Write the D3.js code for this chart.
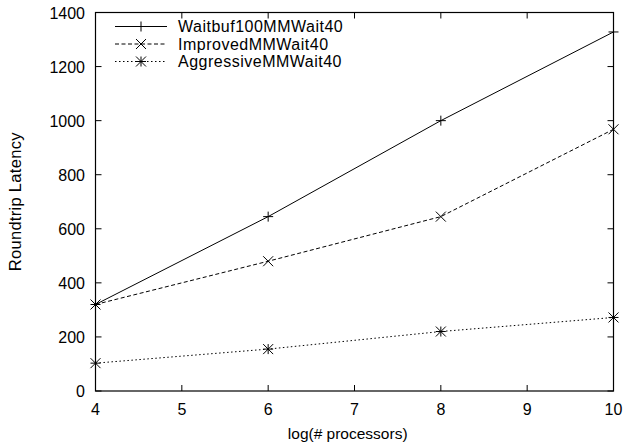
<!DOCTYPE html>
<html><head><meta charset="utf-8">
<script src="https://cdn.jsdelivr.net/npm/d3@7"></script>
<style>body{margin:0;background:#fff}svg{display:block}text{font-family:"Liberation Sans",Arial,Helvetica,sans-serif;fill:#000}</style>
</head><body><svg id="c" width="626" height="445"></svg>
<script>
const xValues = [4, 6, 8, 10];
const waitbuf = [320, 645, 1000, 1328];
const improved = [320, 480, 645, 968];
const aggressive = [103, 155, 220, 272];
const seriesNames = ["Waitbuf100MMWait40", "ImprovedMMWait40", "AggressiveMMWait40"];
const xTicks = [4, 5, 6, 7, 8, 9, 10];
const yTicks = [0, 200, 400, 600, 800, 1000, 1200, 1400];

const svg = d3.select("#c");
const L = 95.5, R = 613.5, T = 12.5, B = 391;
const x = d3.scaleLinear().domain([4, 10]).range([L, R]);
const y = d3.scaleLinear().domain([0, 1400]).range([B, T]);
const tl = 6;

const g = svg.append("g");
xTicks.forEach(t => {
  g.append("line").attr("x1", x(t)).attr("x2", x(t)).attr("y1", B).attr("y2", B - tl).attr("stroke", "#000");
  g.append("line").attr("x1", x(t)).attr("x2", x(t)).attr("y1", T).attr("y2", T + tl).attr("stroke", "#000");
  g.append("text").attr("x", x(t)).attr("y", B + 23.5).attr("text-anchor", "middle").attr("font-size", 16).text(t);
});
yTicks.forEach(t => {
  g.append("line").attr("x1", L).attr("x2", L + tl).attr("y1", y(t)).attr("y2", y(t)).attr("stroke", "#000");
  g.append("line").attr("x1", R).attr("x2", R - tl).attr("y1", y(t)).attr("y2", y(t)).attr("stroke", "#000");
  g.append("text").attr("x", L - 10.5).attr("y", y(t) + 6).attr("text-anchor", "end").attr("font-size", 16).text(t);
});
g.append("rect").attr("x", L).attr("y", T).attr("width", R - L).attr("height", B - T).attr("fill", "none").attr("stroke", "#000").attr("stroke-width", 1.2);

g.append("text").attr("x", (L + R) / 2 - 6.8).attr("y", 438.5).attr("text-anchor", "middle").attr("font-size", 15.5).text("log(# processors)");
g.append("text").attr("transform", `translate(20.5,${(T + B) / 2}) rotate(-90)`).attr("text-anchor", "middle").attr("font-size", 16.5).attr("letter-spacing", 0.3).text("Roundtrip Latency");

const data = [waitbuf, improved, aggressive];
const dashes = [null, "4,2.5", "1.5,2.5"];
const markers = ["plus", "cross", "star"];
const s = 5;
function marker(sel, type, cx, cy) {
  const p = d3.path();
  if (type === "plus" || type === "star") { p.moveTo(cx - s, cy); p.lineTo(cx + s, cy); p.moveTo(cx, cy - s); p.lineTo(cx, cy + s); }
  if (type === "cross" || type === "star") { p.moveTo(cx - s, cy - s); p.lineTo(cx + s, cy + s); p.moveTo(cx - s, cy + s); p.lineTo(cx + s, cy - s); }
  sel.append("path").attr("d", p.toString()).attr("stroke", "#000").attr("stroke-width", 1).attr("fill", "none");
}
const line = d3.line().x((d, i) => x(xValues[i])).y(d => y(d));
data.forEach((vals, k) => {
  g.append("path").attr("d", line(vals)).attr("fill", "none").attr("stroke", "#000").attr("stroke-width", 1)
    .attr("stroke-dasharray", dashes[k]);
  vals.forEach((v, i) => marker(g, markers[k], x(xValues[i]), y(v)));
});
seriesNames.forEach((n, k) => {
  const ly = 26.5 + k * 17.5;
  g.append("line").attr("x1", 115).attr("x2", 167).attr("y1", ly).attr("y2", ly).attr("stroke", "#000").attr("stroke-dasharray", dashes[k]);
  marker(g, markers[k], 141, ly);
  g.append("text").attr("x", 178).attr("y", ly + 5.5).attr("font-size", 16).attr("letter-spacing", 0.5).text(n);
});
</script></body></html>
